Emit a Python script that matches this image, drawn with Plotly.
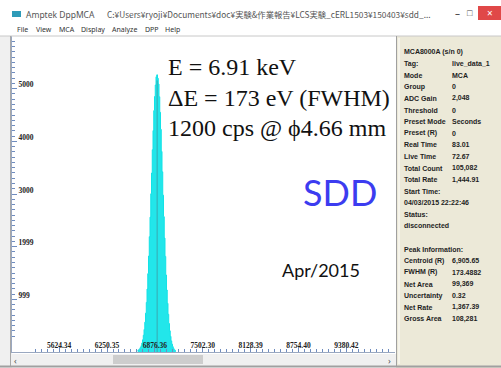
import plotly.graph_objects as go

W, H = 501, 368

# ---- spectrum data -------------------------------------------------------
EV_PER_CH = 9.7814          # energy calibration (eV / channel)
PEAK_FIRST_CH = 680         # first channel of the listed counts
peak_counts = [
    30, 38, 45, 62, 88, 121, 170, 232, 318, 428,
    566, 738, 942, 1196, 1487, 1822, 2190, 2561, 3004, 3398,
    3841, 4204, 4583, 4851, 5069, 5226, 5262, 5197, 5088, 4846,
    4551, 4227, 3808, 3421, 2978, 2569, 2163, 1815, 1462, 1177,
    924, 716, 541, 402, 297, 211, 149, 101, 68, 44,
    29, 18,
]
CENTROID_EV = 6905.65
VIEW_EV = [5008, 10016]
VIEW_COUNTS = [0, 6000]

y_tick_vals = [999, 1999, 3000, 4000, 5000]
y_tick_text = ["999", "1999", "3000", "4000", "5000"]
x_tick_vals = [5624.34, 6250.35, 6876.36, 7502.30, 8128.39, 8754.40, 9380.42]
x_tick_text = ["5624.34", "6250.35", "6876.36", "7502.30", "8128.39", "8754.40", "9380.42"]

menu_items = ["File", "View", "MCA", "Display", "Analyze", "DPP", "Help"]
menu_x = [15, 34, 57, 79, 110, 143, 163]

info_labels = [
    "MCA8000A (s/n 0)", "Tag:", "Mode", "Group", "ADC Gain", "Threshold",
    "Preset Mode", "Preset (R)", "Real Time", "Live Time", "Total Count",
    "Total Rate", "Start Time:", "04/03/2015 22:22:46", "Status:", "disconnected",
    "", "Peak Information:", "Centroid (R)", "FWHM (R)", "Net Area",
    "Uncertainty", "Net Rate", "Gross Area",
]
info_values = [
    "", "live_data_1", "MCA", "0", "2,048", "0",
    "Seconds", "0", "83.01", "72.67", "105,082",
    "1,444.91", "", "", "", "",
    "", "", "6,905.65", "173.4882", "99,369",
    "0.32", "1,367.39", "108,281",
]

notes = ["E = 6.91 keV", "\u0394E = 173 eV (FWHM)", "1200 cps @ \u03d54.66 mm"]

energies = [(PEAK_FIRST_CH + i) * EV_PER_CH for i in range(len(peak_counts))]
peak_top = max(peak_counts)


def px(x):
    return x / W


def py(y):
    return 1 - y / H


def rect(x0, y0, x1, y1, fill, line=None, lw=0):
    return dict(type="rect", xref="paper", yref="paper",
                x0=px(x0), x1=px(x1), y0=py(y1), y1=py(y0),
                fillcolor=fill, line=dict(color=line or fill, width=lw),
                layer="below")


def hline(x0, x1, y, color, lw=1):
    return dict(type="line", xref="paper", yref="paper",
                x0=px(x0), x1=px(x1), y0=py(y), y1=py(y),
                line=dict(color=color, width=lw))


def vline(x, y0, y1, color, lw=1):
    return dict(type="line", xref="paper", yref="paper",
                x0=px(x), x1=px(x), y0=py(y0), y1=py(y1),
                line=dict(color=color, width=lw))


def label(x, y, text, size, color="#222", family="Liberation Sans",
          anchor="left", weight="normal"):
    return dict(xref="paper", yref="paper", x=px(x), y=py(y), text=text,
                showarrow=False, xanchor=anchor, yanchor="middle",
                font=dict(size=size, color=color, family=family, weight=weight))


fig = go.Figure()

fig.add_trace(go.Scatter(
    x=energies, y=peak_counts, mode="lines", line_shape="hvh",
    line=dict(color="#12E2E6", width=1),
    fill="tozeroy", fillcolor="#22E6EA", hoverinfo="skip",
))
# centroid marker
fig.add_trace(go.Scatter(
    x=[CENTROID_EV, CENTROID_EV], y=[0, peak_top * 0.98], mode="lines",
    line=dict(color="#3AA8B0", width=1), hoverinfo="skip",
))

shapes = [
    # title + menu bars
    rect(0, 0, 501, 23, "#FFFFFF"),
    rect(0, 23, 501, 36, "#FFFFFF"),
    rect(12, 11, 21, 17, "#2E9BB8"),
    rect(478, 6, 501, 20, "#E04848"),
    hline(0, 501, 36, "#C8C8C8"),
    # frame around the chart pane
    rect(0, 36, 12, 368, "#F0F0F0"),
    vline(10.5, 36, 366, "#A8A8A8"),
    rect(12, 354, 396, 366, "#F0F0F0"),
    rect(113, 355, 203, 364, "#CDCDCD"),
    hline(0, 501, 366.5, "#A0A0A0", 2),
    # info pane
    rect(396, 36, 501, 368, "#ECE9D8"),
    vline(396.5, 36, 366, "#A0A0A0"),
    vline(399, 38, 364, "#FFFFFF"),
]

ann = [
    label(24, 14, "Amptek DppMCA", 8.5, "#555", "Noto Sans"),
    label(105, 14, "C:\u00a5Users\u00a5ryoji\u00a5Documents\u00a5doc\u00a5\u5b9f\u9a13&\u4f5c\u696d\u5831\u544a"
          "\u00a5LCS\u5b9f\u9a13_cERL1503\u00a5150403\u00a5sdd_...", 8.3, "#555", "Noto Sans CJK JP"),
    label(457, 13, "\u2013", 10, "#444", "Noto Sans", "center"),
    label(470, 12, "\u25a1", 9, "#444", "Noto Sans", "center"),
    label(489.5, 13, "\u00d7", 10, "#FFFFFF", "Noto Sans", "center"),
    label(16, 360, "\u2039", 9, "#555", "Noto Sans", "center"),
    label(389, 360, "\u203a", 9, "#555", "Noto Sans", "center"),
]
for name, x in zip(menu_items, menu_x):
    ann.append(label(x, 29.5, name, 7, "#333", "Noto Sans"))

for i, (lab, val) in enumerate(zip(info_labels, info_values)):
    y = 52 + i * 11.6
    if lab:
        ann.append(label(402, y, lab, 7, "#1E1E1E", "Liberation Sans", weight="bold"))
    if val:
        ann.append(label(450, y, val, 7, "#1E1E1E", "Liberation Sans", weight="bold"))

for i, t in enumerate(notes):
    ann.append(dict(xref="paper", yref="paper", x=px(166), y=py(67 + i * 30.5),
                    text=t, showarrow=False, xanchor="left", yanchor="middle",
                    bgcolor="#FFFFFF",
                    font=dict(size=24, color="#111", family="Liberation Serif")))

ann.append(label(340, 192, "SDD", 36, "#3C3CF0", "Lato", "center"))
ann.append(label(321, 270, "Apr/2015", 18, "#111", "Lato", "center"))

axis_blue = "#6F8CBF"
fig.update_layout(
    width=W, height=H, margin=dict(l=0, r=0, t=0, b=0),
    paper_bgcolor="#FFFFFF", plot_bgcolor="#FFFFFF",
    showlegend=False, shapes=shapes, annotations=ann,
    xaxis=dict(
        domain=[px(12), px(395)], range=VIEW_EV, showgrid=False, zeroline=False,
        showline=True, linecolor="#9AA8C0", linewidth=1,
        tickmode="array", tickvals=x_tick_vals, ticktext=x_tick_text,
        ticks="inside", ticklen=5, tickcolor=axis_blue,
        ticklabelposition="inside", ticklabelstandoff=-4,
        tickfont=dict(size=7.5, family="Liberation Serif", color="#222", weight="bold"),
        minor=dict(ticks="inside", ticklen=3, tickcolor=axis_blue,
                   tick0=5624.34, dtick=78.25),
    ),
    yaxis=dict(
        domain=[py(352), py(36)], range=VIEW_COUNTS, showgrid=False, zeroline=False,
        showline=True, linecolor="#9AA8C0", linewidth=1,
        tickmode="array", tickvals=y_tick_vals, ticktext=y_tick_text,
        ticks="inside", ticklen=5, tickcolor=axis_blue,
        ticklabelposition="inside", ticklabelshift=-4,
        tickfont=dict(size=7.5, family="Liberation Serif", color="#222", weight="bold"),
        minor=dict(ticks="inside", ticklen=3, tickcolor=axis_blue,
                   tick0=0, dtick=100),
    ),
)

fig.write_html("out.html")
